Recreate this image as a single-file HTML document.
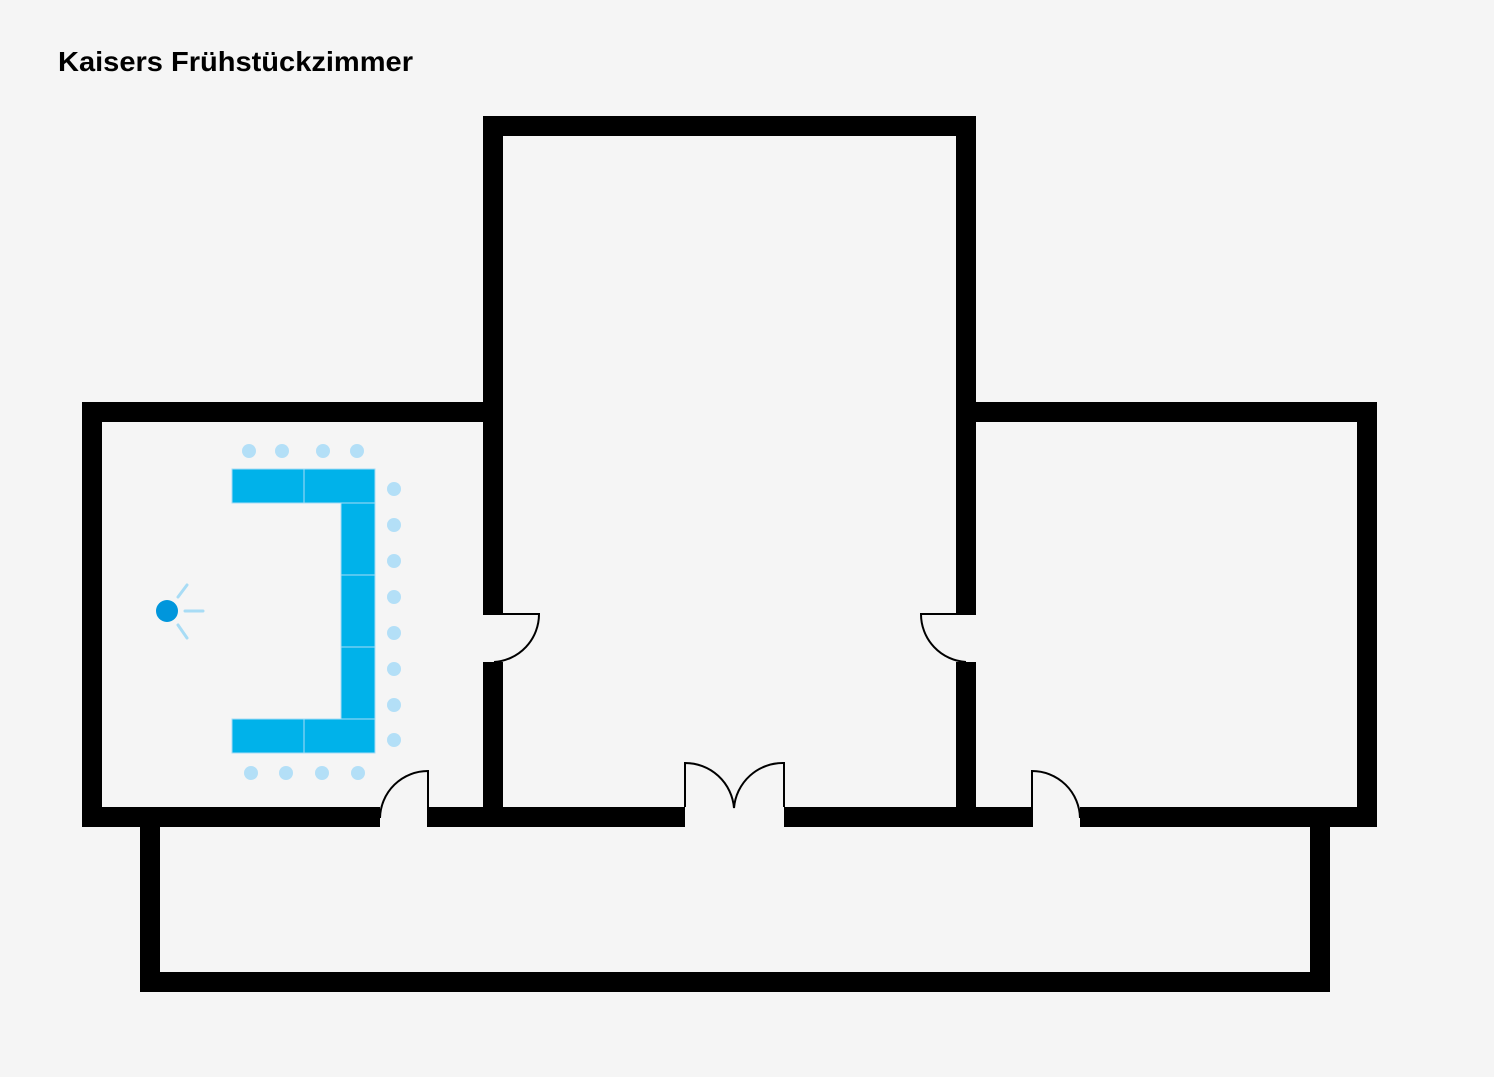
<!DOCTYPE html>
<html><head><meta charset="utf-8"><style>html,body{margin:0;padding:0;background:#f5f5f5}svg{display:block}</style></head>
<body>
<svg width="1494" height="1077" viewBox="0 0 1494 1077" xmlns="http://www.w3.org/2000/svg">
<rect width="1494" height="1077" fill="#f5f5f5"/>
<text x="58" y="71" font-family="Liberation Sans, sans-serif" font-weight="bold" font-size="28" textLength="355" lengthAdjust="spacingAndGlyphs" fill="#000">Kaisers Frühstückzimmer</text>
<g fill="#000">
<!-- central room -->
<rect x="483" y="116" width="493" height="20"/>
<rect x="483" y="116" width="20" height="498"/>
<rect x="483" y="662" width="20" height="165"/>
<rect x="956" y="116" width="20" height="498"/>
<rect x="956" y="662" width="20" height="165"/>
<!-- left room -->
<rect x="82" y="402" width="411" height="20"/>
<rect x="82" y="402" width="20" height="425"/>
<rect x="82" y="807" width="298" height="20"/>
<rect x="428" y="807" width="257" height="20"/>
<rect x="784" y="807" width="248" height="20"/>
<rect x="1080" y="807" width="297" height="20"/>
<!-- right room -->
<rect x="966" y="402" width="411" height="20"/>
<rect x="1357" y="402" width="20" height="425"/>
<!-- corridor -->
<rect x="140" y="807" width="20" height="185"/>
<rect x="1310" y="807" width="20" height="185"/>
<rect x="140" y="972" width="1190" height="20"/>
</g>
<g fill="none" stroke="#000" stroke-width="2">
<path d="M428,827 L428,771 A48,48 0 0 0 380,818"/>
<path d="M685,807 L685,763 A49,49 0 0 1 734,808 A49,49 0 0 1 784,763 L784,807"/>
<path d="M1032,827 L1032,771 A48,48 0 0 1 1080,818"/>
<path d="M483,614 L539,614 A48,48 0 0 1 494,662"/>
<path d="M976,614 L921,614 A48,48 0 0 0 966,662"/>
</g>
<g fill="#00b2ea" stroke="#a8dcf5" stroke-width="1">
<rect x="232" y="469" width="72" height="34"/>
<rect x="304" y="469" width="71" height="34"/>
<rect x="341" y="503" width="34" height="72"/>
<rect x="341" y="575" width="34" height="72"/>
<rect x="341" y="647" width="34" height="72"/>
<rect x="232" y="719" width="72" height="34"/>
<rect x="304" y="719" width="71" height="34"/>
</g>
<g fill="#b3dff7">
<circle cx="249" cy="451" r="7"/><circle cx="282" cy="451" r="7"/><circle cx="323" cy="451" r="7"/><circle cx="357" cy="451" r="7"/>
<circle cx="394" cy="489" r="7"/><circle cx="394" cy="525" r="7"/><circle cx="394" cy="561" r="7"/><circle cx="394" cy="597" r="7"/>
<circle cx="394" cy="633" r="7"/><circle cx="394" cy="669" r="7"/><circle cx="394" cy="705" r="7"/><circle cx="394" cy="740" r="7"/>
<circle cx="251" cy="773" r="7"/><circle cx="286" cy="773" r="7"/><circle cx="322" cy="773" r="7"/><circle cx="358" cy="773" r="7"/>
</g>
<circle cx="167" cy="611" r="11" fill="#0096dc"/>
<g stroke="#a8dcf5" stroke-width="3" stroke-linecap="round">
<line x1="185" y1="611" x2="203" y2="611"/>
<line x1="178" y1="597" x2="187" y2="585"/>
<line x1="178" y1="625" x2="187" y2="638"/>
</g>
</svg>
</body></html>
